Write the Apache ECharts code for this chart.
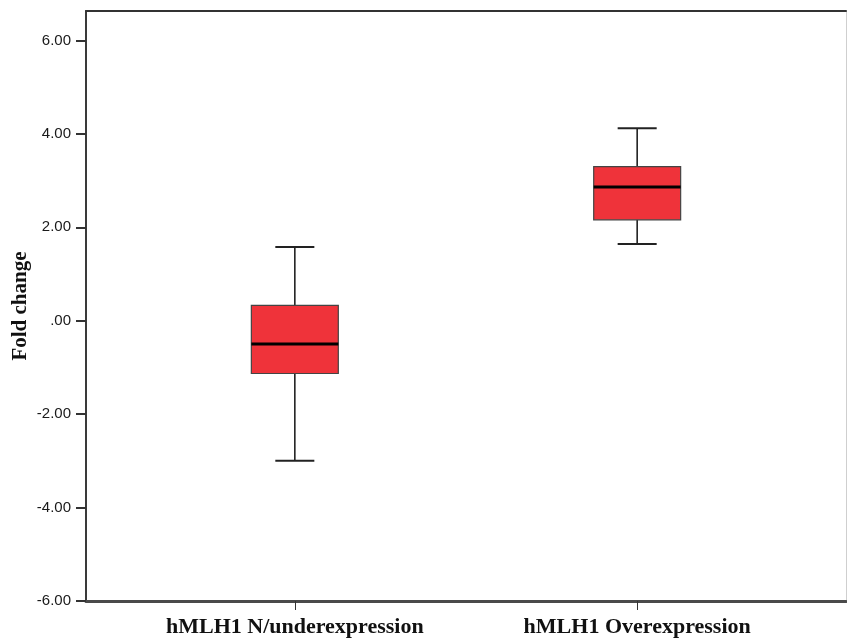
<!DOCTYPE html>
<html>
<head>
<meta charset="utf-8">
<script src="https://cdn.jsdelivr.net/npm/echarts@6/dist/echarts.min.js"></script>
<style>
html,body{margin:0;padding:0;background:#fff;}
#chart{width:847px;height:638px;}
</style>
</head>
<body>
<div id="chart"></div>
<script>
// ---- data ----
const categories = ["hMLH1 N/underexpression", "hMLH1 Overexpression"];
const lowerWhisker = [-3.00, 1.64];
const q1Values = [-1.13, 2.16];
const medianValues = [-0.50, 2.86];
const q3Values = [0.33, 3.30];
const upperWhisker = [1.58, 4.12];
const yTicks = [-6, -4, -2, 0, 2, 4, 6];
const yTickLabels = ["-6.00", "-4.00", "-2.00", ".00", "2.00", "4.00", "6.00"];
const yName = "Fold change";

// ---- style constants ----
const BOX_W = 0.254;   // in category units
const CAP_W = 0.114;
const BOX_FILL = '#EF333A';

const chart = echarts.init(document.getElementById('chart'), null, {renderer: 'canvas'});

const seriesData = categories.map((c, i) => [i, lowerWhisker[i], q1Values[i], medianValues[i], q3Values[i], upperWhisker[i]]);

const option = {
  backgroundColor: '#ffffff',
  animation: false,
  grid: {left: 86, top: 11, right: 1, bottom: 35, containLabel: false},
  xAxis: [{
    type: 'value', min: -0.61, max: 1.61, position: 'bottom',
    splitLine: {show: false},
    axisLine: {show: true, onZero: false, lineStyle: {color: '#4a4a4a', width: 3}},
    axisTick: {show: true, length: 9, customValues: [0, 1], lineStyle: {color: '#333', width: 1}},
    axisLabel: {
      customValues: [0, 1], margin: 15,
      formatter: v => categories[Math.round(v)],
      fontFamily: 'Liberation Serif', fontWeight: 'bold', fontSize: 22, color: '#111'
    }
  }, {
    type: 'value', min: -0.61, max: 1.61, position: 'top',
    splitLine: {show: false},
    axisLine: {show: true, onZero: false, lineStyle: {color: '#333', width: 2}},
    axisTick: {show: false}, axisLabel: {show: false}
  }],
  yAxis: [{
    type: 'value', min: -6, max: 6.63, position: 'left',
    name: yName, nameLocation: 'middle', nameGap: 55, nameRotate: 90,
    nameMoveOverlap: false,
    nameTextStyle: {fontFamily: 'Liberation Serif', fontWeight: 'bold', fontSize: 21, color: '#111'},
    splitLine: {show: false},
    axisLine: {show: true, onZero: false, lineStyle: {color: '#3a3a3a', width: 2}},
    axisTick: {show: true, length: 10, customValues: yTicks, lineStyle: {color: '#333', width: 2}},
    axisLabel: {
      customValues: yTicks, margin: 15,
      formatter: v => yTickLabels[yTicks.indexOf(Math.round(v))],
      fontFamily: 'Liberation Sans', fontSize: 15, color: '#1a1a1a'
    }
  }, {
    type: 'value', min: -6, max: 6.63, position: 'right',
    splitLine: {show: false},
    axisLine: {show: true, onZero: false, lineStyle: {color: '#cfcfcf', width: 1}},
    axisTick: {show: false}, axisLabel: {show: false}
  }],
  series: [{
    type: 'custom',
    xAxisIndex: 0, yAxisIndex: 0,
    data: seriesData,
    encode: {x: 0, y: [1, 2, 3, 4, 5]},
    renderItem: function (params, api) {
      const x = api.value(0);
      const lo = api.coord([x, api.value(1)]);
      const q1 = api.coord([x, api.value(2)]);
      const md = api.coord([x, api.value(3)]);
      const q3 = api.coord([x, api.value(4)]);
      const hi = api.coord([x, api.value(5)]);
      const unit = api.size([1, 0])[0];
      const bw = unit * BOX_W, cw = unit * CAP_W;
      const cx = lo[0];
      const lineStyle = {stroke: '#222', lineWidth: 1.6};
      return {
        type: 'group',
        children: [
          {type: 'line', shape: {x1: cx, y1: hi[1], x2: cx, y2: q3[1]}, style: lineStyle},
          {type: 'line', shape: {x1: cx, y1: q1[1], x2: cx, y2: lo[1]}, style: lineStyle},
          {type: 'line', shape: {x1: cx - cw / 2, y1: hi[1], x2: cx + cw / 2, y2: hi[1]}, style: {stroke: '#222', lineWidth: 2}},
          {type: 'line', shape: {x1: cx - cw / 2, y1: lo[1], x2: cx + cw / 2, y2: lo[1]}, style: {stroke: '#222', lineWidth: 2}},
          {type: 'rect', shape: {x: cx - bw / 2, y: q3[1], width: bw, height: q1[1] - q3[1]},
           style: {fill: BOX_FILL, stroke: '#444', lineWidth: 1.2}},
          {type: 'line', shape: {x1: cx - bw / 2, y1: md[1], x2: cx + bw / 2, y2: md[1]}, style: {stroke: '#000', lineWidth: 3}}
        ]
      };
    }
  }]
};
chart.setOption(option);
</script>
</body>
</html>
